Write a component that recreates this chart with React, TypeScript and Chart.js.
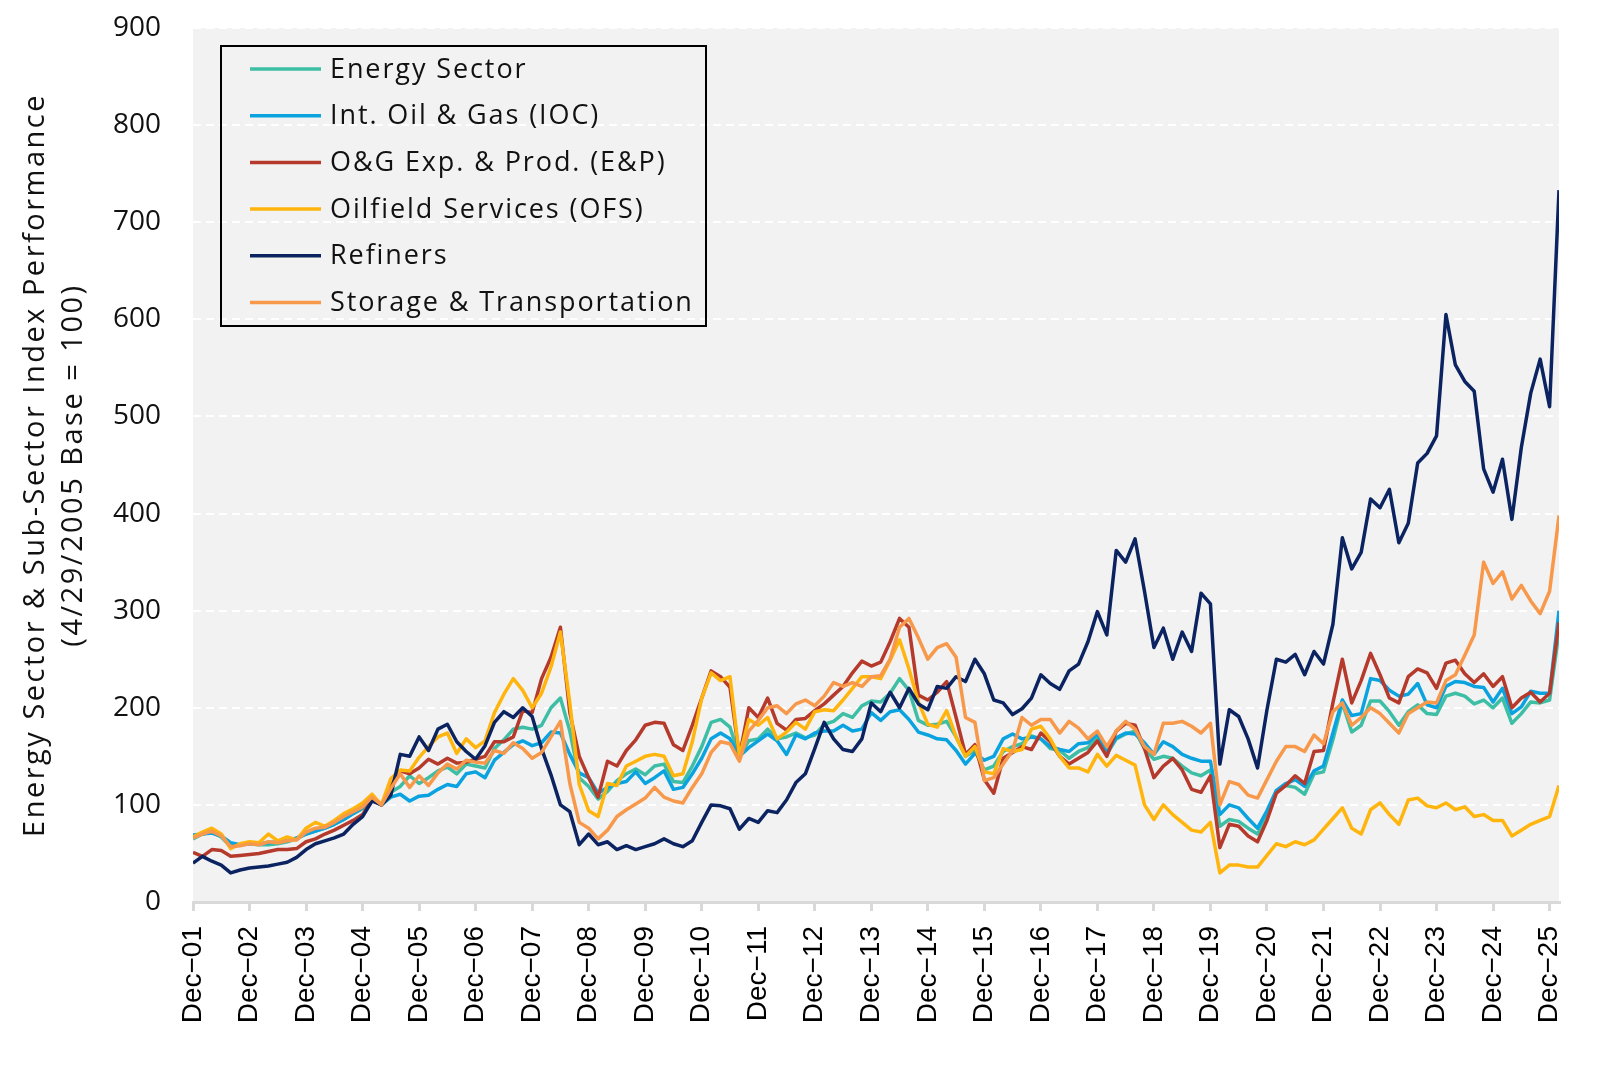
import React, { useEffect, useRef } from "react";
import { Chart, registerables } from "chart.js";

Chart.register(...registerables);

// x = months since Dec-2001, sampled every two months
const months: number[] = Array.from({ length: 146 }, (_, i) => i * 2);

const tickMonths = [0, 12, 24, 36, 48, 60, 72, 84, 96, 108, 120, 132, 144, 156, 168, 180, 192, 204, 216, 228, 240, 252, 264, 276, 288];
const tickLabels = ["Dec-01", "Dec-02", "Dec-03", "Dec-04", "Dec-05", "Dec-06", "Dec-07", "Dec-08", "Dec-09", "Dec-10", "Dec-11", "Dec-12", "Dec-13", "Dec-14", "Dec-15", "Dec-16", "Dec-17", "Dec-18", "Dec-19", "Dec-20", "Dec-21", "Dec-22", "Dec-23", "Dec-24", "Dec-25"];
const yTicks = [0, 100, 200, 300, 400, 500, 600, 700, 800, 900];
const yTitle = ["Energy Sector & Sub-Sector Index Performance", "(4/29/2005 Base = 100)"];

const seriesNames = [
  "Energy Sector",
  "Int. Oil & Gas (IOC)",
  "O&G Exp. & Prod. (E&P)",
  "Oilfield Services (OFS)",
  "Refiners",
  "Storage & Transportation",
];
const seriesColors = ["#3dbea5", "#0aa3df", "#b53a2b", "#ffb50d", "#0b2461", "#f7984a"];

const energySector = [
  65, 70, 72, 67, 57, 59,
  60, 59, 59, 60, 62, 65,
  70, 73, 76, 80, 85, 91,
  96, 108, 100, 113, 119, 130,
  122, 128, 135, 139, 132, 142,
  140, 138, 158, 167, 178, 180,
  178, 182, 200, 210, 176, 128,
  119, 106, 114, 125, 132, 137,
  131, 140, 142, 124, 123, 140,
  160, 185, 188, 180, 150, 166,
  168, 178, 168, 170, 174, 169,
  172, 183, 186, 194, 190, 202,
  207, 206, 215, 230, 218, 187,
  182, 183, 186, 170, 150, 156,
  136, 140, 155, 160, 163, 171,
  168, 158, 156, 148, 155, 159,
  170, 152, 168, 173, 176, 158,
  147, 150, 148, 140, 133, 130,
  136, 78, 85, 83, 76, 70,
  88, 114, 120, 118, 111, 132,
  134, 167, 205, 175, 182, 207,
  207, 196, 182, 196, 203, 194,
  193, 212, 215, 212, 204, 208,
  200, 210, 184, 194, 206, 205,
  208, 278,
];

const intOilGas = [
  69, 70, 71, 68, 61, 59,
  60, 60, 61, 62, 63, 66,
  70, 73, 76, 80, 85, 91,
  97, 108, 100, 108, 111, 104,
  109, 110, 116, 121, 119, 132,
  134, 128, 146, 154, 162, 166,
  161, 164, 175, 174, 152, 133,
  128, 112, 118, 122, 124, 134,
  122, 128, 135, 116, 118, 132,
  148, 168, 174, 168, 150, 159,
  166, 173, 166, 152, 172, 168,
  174, 176, 176, 182, 176, 178,
  195, 187, 196, 198, 188, 175,
  172, 168, 167, 156, 142, 153,
  146, 150, 168, 173, 168, 170,
  168, 160, 157, 155, 163, 164,
  173, 154, 169, 174, 173, 164,
  152, 165, 160, 152, 148, 145,
  145, 90, 100, 97, 86, 76,
  94, 115, 122, 126, 119, 135,
  140, 174, 208, 192, 194, 230,
  228, 218, 212, 214, 225, 203,
  200, 222, 227, 226, 222, 221,
  206, 220, 194, 201, 217, 215,
  215, 300,
];

const expProd = [
  51, 47, 54, 53, 47, 48,
  49, 50, 52, 54, 54, 55,
  62, 65, 70, 74, 79, 84,
  90, 105, 100, 120, 135, 132,
  138, 147, 142, 148, 143, 144,
  147, 150, 165, 165, 170, 197,
  195, 230, 252, 283, 195, 150,
  128, 108, 145, 140, 156, 167,
  182, 185, 184, 162, 156, 182,
  210, 238, 232, 221, 150, 200,
  190, 210, 184, 177, 188, 189,
  197, 204, 213, 222, 236, 248,
  243, 247, 268, 292, 283, 213,
  208, 216, 227, 190, 152, 162,
  126, 112, 148, 154, 160, 157,
  174, 165, 150, 142, 148, 154,
  166, 150, 176, 184, 182, 158,
  128, 140, 148, 136, 116, 113,
  130, 56, 80, 78, 68, 62,
  84, 112, 120, 130, 122, 155,
  156, 205, 250, 205, 228, 256,
  234, 210, 205, 232, 240, 236,
  220, 246, 249, 235, 226, 235,
  222, 232, 200, 210, 216, 206,
  215, 288,
];

const oilfieldServices = [
  67, 72, 76, 70, 55, 60,
  62, 61, 70, 63, 67, 64,
  76, 82, 78, 84, 91, 96,
  102, 111, 100, 127, 136, 135,
  149, 160, 170, 174, 153, 168,
  159, 166, 195, 214, 230, 218,
  200, 215, 242, 278, 205, 121,
  94, 88, 122, 120, 140, 145,
  150, 152, 150, 130, 132, 165,
  210, 236, 228, 232, 150, 188,
  182, 190, 168, 175, 185, 178,
  196, 198, 197, 208, 220, 232,
  232, 230, 249, 270, 240, 206,
  183, 180, 197, 170, 150, 160,
  134, 132, 158, 155, 157, 178,
  181, 168, 150, 138, 138, 134,
  152, 140, 151, 146, 141, 100,
  85, 100, 90, 82, 74, 72,
  82, 30, 38, 38, 36, 36,
  48, 60, 57, 62, 59, 64,
  75, 86, 97, 76, 70, 95,
  102, 90, 80, 105, 107, 99,
  97, 102, 95, 98, 88, 90,
  84, 84, 68, 74, 80, 84,
  88, 120,
];

const refiners = [
  40, 47, 42, 38, 30, 33,
  35, 36, 37, 39, 41, 46,
  54, 60, 63, 66, 70, 80,
  88, 104, 100, 110, 152, 150,
  170, 156, 178, 183, 165, 155,
  147, 161, 185, 196, 190, 200,
  191, 158, 131, 100, 93, 59,
  70, 59, 62, 54, 58, 54,
  57, 60, 65, 60, 57, 63,
  82, 100, 99, 96, 75, 86,
  82, 94, 92, 105, 123, 132,
  158, 185, 168, 157, 155, 168,
  205, 196, 216, 200, 220, 204,
  198, 222, 220, 232, 227, 250,
  235, 208, 205, 193, 199, 210,
  234, 225, 219, 238, 245, 268,
  299, 275, 362, 350, 374, 320,
  262, 282, 250, 278, 258, 318,
  307, 142, 198, 191, 168, 138,
  198, 250, 247, 255, 234, 258,
  245, 286, 375, 343, 360, 415,
  406, 425, 370, 390, 452, 462,
  480, 605, 553, 536, 526, 446,
  422, 456, 394, 468, 524, 559,
  510, 733,
];

const storageTransport = [
  66, 70, 73, 68, 57, 58,
  60, 59, 62, 61, 63, 64,
  72, 76, 77, 82, 88, 93,
  98, 108, 100, 117, 132, 118,
  130, 120, 133, 142, 137, 146,
  144, 143, 156, 153, 164, 158,
  148, 154, 170, 186, 122, 82,
  76, 65, 74, 88, 95, 101,
  107, 118, 108, 104, 102, 118,
  132, 154, 165, 163, 145, 176,
  187, 200, 202, 194, 204, 208,
  202, 212, 226, 222, 226, 222,
  232, 233, 250, 283, 292, 272,
  250, 262, 266, 252, 190, 185,
  125, 128, 142, 156, 190, 182,
  188, 188, 174, 186, 179, 168,
  176, 160, 176, 186, 178, 160,
  152, 184, 184, 186, 181, 174,
  184, 100, 124, 121, 110, 107,
  126, 145, 160, 160, 155, 172,
  163, 196, 205, 182, 190, 200,
  194, 184, 174, 194, 200, 206,
  205, 228, 234, 254, 275, 350,
  328, 340, 312, 326, 310, 297,
  320, 398,
];

const seriesValues = [energySector, intOilGas, expProd, oilfieldServices, refiners, storageTransport];

const LABEL_FAMILY = '"Open Sans"';

const plotBackground = {
  id: "plotBackground",
  beforeDraw(chart: any) {
    const { ctx, chartArea } = chart;
    ctx.save();
    ctx.fillStyle = "#f2f2f2";
    ctx.fillRect(chartArea.left, chartArea.top, chartArea.right - chartArea.left, chartArea.bottom - chartArea.top);
    ctx.restore();
  },
};

const axisTitle = {
  id: "axisTitle",
  afterDraw(chart: any) {
    const { ctx, chartArea } = chart;
    const cy = (chartArea.top + chartArea.bottom) / 2;
    const xs = [36, 74];
    ctx.save();
    ctx.fillStyle = "#111111";
    ctx.font = `29px ${LABEL_FAMILY}`;
    (ctx as any).letterSpacing = "2.5px";
    ctx.textAlign = "center";
    ctx.textBaseline = "middle";
    yTitle.forEach((line, i) => {
      ctx.save();
      ctx.translate(xs[i], cy);
      ctx.rotate(-Math.PI / 2);
      ctx.fillText(line, 0, 0);
      ctx.restore();
    });
    ctx.restore();
  },
};

const boxedLegend = {
  id: "boxedLegend",
  afterDraw(chart: any) {
    const { ctx, chartArea } = chart;
    const x0 = chartArea.left + 28;
    const y0 = chartArea.top + 18;
    const w = 485;
    const h = 280;
    ctx.save();
    ctx.strokeStyle = "#000000";
    ctx.lineWidth = 2;
    ctx.strokeRect(x0, y0, w, h);
    ctx.font = `27px ${LABEL_FAMILY}`;
    (ctx as any).letterSpacing = "1.9px";
    ctx.textBaseline = "middle";
    ctx.textAlign = "left";
    seriesNames.forEach((name, i) => {
      const y = y0 + 23 + i * 46.7;
      ctx.strokeStyle = seriesColors[i];
      ctx.lineWidth = 3.5;
      ctx.beginPath();
      ctx.moveTo(x0 + 29, y);
      ctx.lineTo(x0 + 100, y);
      ctx.stroke();
      ctx.fillStyle = "#111111";
      ctx.fillText(name, x0 + 109, y + 1);
    });
    ctx.restore();
  },
};

export default function App() {
  const canvasRef = useRef<HTMLCanvasElement | null>(null);

  useEffect(() => {
    document.body.style.margin = "0";
    const canvas = canvasRef.current;
    if (!canvas) return;

    const datasets = seriesNames.map((name, i) => ({
      label: name,
      data: months.map((m, j) => ({ x: m, y: seriesValues[i][j] })),
      borderColor: seriesColors[i],
      backgroundColor: seriesColors[i],
      borderWidth: 3.5,
      pointRadius: 0,
      tension: 0,
      fill: false,
      borderJoinStyle: "round" as const,
      order: seriesNames.length - i,
    }));

    const chart = new Chart(canvas, {
      type: "line",
      data: { datasets },
      plugins: [plotBackground, boxedLegend, axisTitle],
      options: {
        animation: false,
        responsive: false,
        maintainAspectRatio: false,
        layout: { padding: { top: 28, right: 41, bottom: 0, left: 0 } },
        plugins: {
          legend: { display: false },
          tooltip: { enabled: false },
        },
        scales: {
          x: {
            type: "linear",
            min: 0,
            max: 290,
            afterBuildTicks: (scale: any) => {
              scale.ticks = tickMonths.map((v) => ({ value: v }));
            },
            afterFit: (scale: any) => {
              scale.height = 163;
            },
            ticks: {
              autoSkip: false,
              minRotation: 90,
              maxRotation: 90,
              padding: 15,
              color: "#000000",
              font: { family: '"Liberation Sans", Arial', size: 28 },
              callback: (_v: any, index: number) => tickLabels[index].replace("-", "\u2212"),
            },
            grid: {
              drawOnChartArea: false,
              drawTicks: true,
              tickLength: 9,
              color: "#d9d9d9",
              lineWidth: 3,
            },
            border: { display: true, color: "#d9d9d9", width: 3 },
          },
          y: {
            type: "linear",
            min: 0,
            max: 900,
            afterBuildTicks: (scale: any) => {
              scale.ticks = yTicks.map((v) => ({ value: v }));
            },
            afterFit: (scale: any) => {
              scale.width = 193;
            },
            ticks: {
              padding: 8,
              color: "#111111",
              font: { family: LABEL_FAMILY, size: 28 },
            },
            grid: {
              color: "#ffffff",
              lineWidth: 2,
              drawTicks: true,
              tickLength: 24,
              tickColor: "rgba(0,0,0,0)",
            },
            border: { display: false, dash: [8, 5] },
            title: { display: false },
          },
        },
      },
    });

    return () => {
      chart.destroy();
    };
  }, []);

  return (
    <div style={{ width: 1600, height: 1065, background: "#ffffff" }}>
      <canvas ref={canvasRef} width={1600} height={1065} style={{ display: "block", width: 1600, height: 1065 }} />
    </div>
  );
}
